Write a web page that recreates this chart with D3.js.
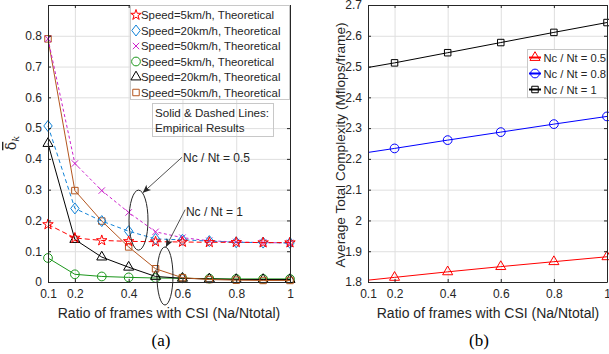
<!DOCTYPE html>
<html>
<head>
<meta charset="utf-8">
<script src="https://cdn.jsdelivr.net/npm/d3@7"></script>
<style>
body { margin: 0; background: #fff; }
svg { display: block; font-family: "Liberation Sans", Arial, sans-serif; }
</style>
</head>
<body>
<main></main>
<script>
// panel (a): delta_k vs ratio of frames with CSI
const ratiosA = [0.1, 0.2, 0.3, 0.4, 0.5, 0.6, 0.7, 0.8, 0.9, 1];
const half5 = [0.187, 0.143, 0.135, 0.132, 0.131, 0.130, 0.129, 0.129, 0.128, 0.128];
const half20 = [0.507, 0.239, 0.198, 0.165, 0.140, 0.137, 0.133, 0.129, 0.128, 0.127];
const half50 = [0.790, 0.385, 0.297, 0.226, 0.163, 0.144, 0.134, 0.130, 0.128, 0.127];
const full5 = [0.078, 0.025, 0.018, 0.015, 0.013, 0.012, 0.011, 0.010, 0.010, 0.010];
const full20 = [0.450, 0.138, 0.081, 0.048, 0.018, 0.012, 0.010, 0.008, 0.008, 0.008];
const full50 = [0.790, 0.297, 0.198, 0.114, 0.043, 0.014, 0.008, 0.006, 0.005, 0.005];
const legendA = ["Speed=5km/h, Theoretical", "Speed=20km/h, Theoretical", "Speed=50km/h, Theoretical",
                 "Speed=5km/h, Theoretical", "Speed=20km/h, Theoretical", "Speed=50km/h, Theoretical"];
const xTicksA = [0.1, 0.2, 0.4, 0.6, 0.8, 1];
const yTicksA = [0, 0.1, 0.2, 0.3, 0.4, 0.5, 0.6, 0.7, 0.8];
const noteA = ["Nc / Nt = 0.5", "Nc / Nt = 1"];
const boxText = ["Solid & Dashed Lines:", "Empirical Results"];

// panel (b): complexity
const ratiosB = [0.1, 0.2, 0.4, 0.6, 0.8, 1];
const complexHalf = [1.806, 1.815, 1.833, 1.850, 1.866, 1.882];
const complex08 = [2.221, 2.234, 2.261, 2.287, 2.313, 2.338];
const complexFull = [2.497, 2.512, 2.545, 2.578, 2.611, 2.643];
const legendB = ["Nc / Nt = 0.5", "Nc / Nt = 0.8", "Nc / Nt = 1"];
const xTicksB = [0.1, 0.2, 0.4, 0.6, 0.8, 1];
const yTicksB = [1.8, 1.9, 2, 2.1, 2.2, 2.3, 2.4, 2.5, 2.6, 2.7];

const svgSize = { width: 609, height: 354 };
const ink = "#262626";
const gridColor = "#dfdfdf";

const svg = d3.select("main")
    .append("svg")
    .attr("width", svgSize.width)
    .attr("height", svgSize.height);

svg.append("defs").append("marker")
    .attr("id", "arrow")
    .attr("markerUnits", "userSpaceOnUse")
    .attr("viewBox", "-9 -5 10 10")
    .attr("refX", 0).attr("refY", 0)
    .attr("markerWidth", 10).attr("markerHeight", 10)
    .attr("orient", "auto")
    .append("path")
    .attr("d", "M0,0 L-8,-3.5 L-6,0 L-8,3.5 Z")
    .attr("fill", ink);

// marker shapes
const markerPath = (kind) => {
    if (kind === "star") return d3.symbol(d3.symbolStar, 34)();
    if (kind === "circle") return d3.symbol(d3.symbolCircle, 60)();
    if (kind === "triangle") return d3.symbol(d3.symbolTriangle, 44)();
    if (kind === "square") return d3.symbol(d3.symbolSquare, 42)();
    if (kind === "diamond") return "M0,-5.5L4.2,0L0,5.5L-4.2,0Z";
    if (kind === "x") return "M-3.2,-3.2L3.2,3.2M-3.2,3.2L3.2,-3.2";
    return "";
};

const drawFrame = (g, x, y, xTicks, yTicks) => {
    const [x0, x1] = x.range();
    const [y0, y1] = y.range();
    g.append("g")
        .attr("transform", `translate(0, ${y0})`)
        .call(d3.axisBottom(x).tickValues(xTicks).tickSize(-(y0 - y1)).tickFormat(""))
        .call(a => a.select(".domain").remove())
        .selectAll("line").attr("stroke", gridColor);
    g.append("g")
        .attr("transform", `translate(${x0}, 0)`)
        .call(d3.axisLeft(y).tickValues(yTicks).tickSize(-(x1 - x0)).tickFormat(""))
        .call(a => a.select(".domain").remove())
        .selectAll("line").attr("stroke", gridColor);
};

const drawAxes = (g, x, y, xTicks, yTicks, fmt) => {
    const [x0, x1] = x.range();
    const [y0, y1] = y.range();
    const styleAxis = (a) => {
        a.select(".domain").attr("stroke", ink).attr("stroke-width", 1);
        a.selectAll(".tick line").attr("stroke", ink);
        a.selectAll("text").attr("fill", ink).attr("font-size", 12)
            .attr("font-family", "Liberation Sans, Arial, sans-serif");
    };
    g.append("g")
        .attr("transform", `translate(0, ${y0})`)
        .call(d3.axisBottom(x).tickValues(xTicks).tickSizeInner(-3).tickSizeOuter(0)
            .tickPadding(7).tickFormat(d3.format("~g")))
        .call(styleAxis);
    g.append("g")
        .attr("transform", `translate(0, ${y1})`)
        .call(d3.axisTop(x).tickValues(xTicks).tickSizeInner(-3).tickSizeOuter(0).tickFormat(""))
        .call(styleAxis);
    g.append("g")
        .attr("transform", `translate(${x0}, 0)`)
        .call(d3.axisLeft(y).tickValues(yTicks).tickSizeInner(-3).tickSizeOuter(0)
            .tickPadding(6).tickFormat(fmt))
        .call(styleAxis);
    g.append("g")
        .attr("transform", `translate(${x1}, 0)`)
        .call(d3.axisRight(y).tickValues(yTicks).tickSizeInner(-3).tickSizeOuter(0).tickFormat(""))
        .call(styleAxis);
};

const drawSeries = (g, x, y, xs, ys, s) => {
    const line = d3.line().x((d, i) => x(xs[i])).y(d => y(d));
    g.append("path")
        .datum(ys)
        .attr("d", line)
        .attr("fill", "none")
        .attr("stroke", s.color)
        .attr("stroke-width", s.width || 1)
        .attr("stroke-dasharray", s.dash || null);
    g.selectAll(null)
        .data(ys.map((v, i) => [xs[i], v]).filter((d, i) => i >= (s.skip || 0)))
        .enter()
        .append("path")
        .attr("transform", d => `translate(${x(d[0])}, ${y(d[1])})`)
        .attr("d", markerPath(s.marker))
        .attr("fill", "none")
        .attr("stroke", s.color)
        .attr("stroke-width", 1);
};

const drawPanelA = () => {
    const g = svg.append("g");
    const x = d3.scaleLinear().domain([0.1, 1]).range([48, 290]);
    const y = d3.scaleLinear().domain([0, 0.9]).range([282, 5]);
    drawFrame(g, x, y, xTicksA, yTicksA);

    const series = [
        { ys: half5, color: "#ff0000", dash: "5,3", marker: "star" },
        { ys: half20, color: "#1183d8", dash: "4,3", marker: "diamond" },
        { ys: half50, color: "#cc22cc", dash: "3,2.5", marker: "x" },
        { ys: full5, color: "#1a961a", marker: "circle" },
        { ys: full20, color: "#000000", marker: "triangle" },
        { ys: full50, color: "#b4561f", marker: "square" }
    ];
    // solid lines under the dashed ones
    [3, 4, 5, 2, 1, 0].forEach(i => drawSeries(g, x, y, ratiosA, series[i].ys, series[i]));
    drawAxes(g, x, y, xTicksA, yTicksA, d3.format("~g"));

    // legend
    const lg = g.append("g");
    lg.append("rect")
        .attr("x", 130.5).attr("y", 5.5).attr("width", 159).attr("height", 94)
        .attr("fill", "#fff").attr("stroke", "#c8c8c8");
    legendA.forEach((t, i) => {
        const cy = 15 + i * 15.5;
        lg.append("path")
            .attr("transform", `translate(136, ${cy})`)
            .attr("d", markerPath(series[i].marker))
            .attr("fill", "none").attr("stroke", series[i].color);
        lg.append("text")
            .attr("x", 141).attr("y", cy + 4.2)
            .attr("font-size", 11.4).attr("fill", ink)
            .text(t);
    });

    // text box
    g.append("rect")
        .attr("x", 152.5).attr("y", 103.5).attr("width", 121).attr("height", 33)
        .attr("fill", "none").attr("stroke", "#c8c8c8");
    boxText.forEach((t, i) => {
        g.append("text")
            .attr("x", 155).attr("y", 117 + i * 15)
            .attr("font-size", 11.6).attr("fill", ink)
            .text(t);
    });

    // annotations
    const notes = [
        { text: noteA[0], tx: 0.602, ty: 0.39, cx: 0.4366, cy: 0.201, rx: 9.5, ry: 30,
          from: [0.598, 0.405], to: [0.4525, 0.29] },
        { text: noteA[1], tx: 0.613, ty: 0.214, cx: 0.535, cy: 0.0195, rx: 8, ry: 29,
          from: [0.61, 0.235], to: [0.5385, 0.114] }
    ];
    notes.forEach(n => {
        g.append("ellipse")
            .attr("cx", x(n.cx)).attr("cy", y(n.cy))
            .attr("rx", n.rx).attr("ry", n.ry)
            .attr("fill", "none").attr("stroke", ink);
        g.append("line")
            .attr("x1", x(n.from[0])).attr("y1", y(n.from[1]))
            .attr("x2", x(n.to[0])).attr("y2", y(n.to[1]))
            .attr("stroke", ink).attr("stroke-width", 0.8)
            .attr("marker-end", "url(#arrow)");
        g.append("text")
            .attr("x", x(n.tx)).attr("y", y(n.ty))
            .attr("font-size", 12).attr("fill", ink)
            .text(n.text);
    });

    // axis titles
    g.append("text")
        .attr("x", 169).attr("y", 318)
        .attr("text-anchor", "middle").attr("font-size", 14).attr("fill", ink)
        .text("Ratio of frames with CSI (Na/Ntotal)");
    const yl = g.append("text")
        .attr("transform", "translate(16, 143) rotate(-90)")
        .attr("text-anchor", "middle").attr("font-size", 14).attr("fill", ink)
        .attr("font-family", "DejaVu Serif, serif");
    yl.append("tspan").style("text-decoration", "overline").text("δ");
    yl.append("tspan").attr("font-size", 10).attr("font-style", "italic").attr("dy", 3).text("k");

    g.append("text")
        .attr("x", 161).attr("y", 346)
        .attr("text-anchor", "middle").attr("font-size", 17)
        .attr("font-family", "Liberation Serif, Times New Roman, serif").attr("fill", "#000")
        .text("(a)");
};

const drawPanelB = () => {
    const g = svg.append("g");
    const x = d3.scaleLinear().domain([0.1, 1]).range([368, 607]);
    const y = d3.scaleLinear().domain([1.8, 2.7]).range([282, 5]);
    drawFrame(g, x, y, xTicksB, yTicksB);

    const series = [
        { ys: complexHalf, color: "#ff0000", marker: "triangle", skip: 1 },
        { ys: complex08, color: "#0000ff", marker: "circle", skip: 1 },
        { ys: complexFull, color: "#000000", marker: "square", skip: 1 }
    ];
    series.forEach(s => drawSeries(g, x, y, ratiosB, s.ys, s));
    drawAxes(g, x, y, xTicksB, yTicksB, d3.format("~g"));

    const lg = g.append("g");
    lg.append("rect")
        .attr("x", 527.5).attr("y", 49.5).attr("width", 79).attr("height", 48)
        .attr("fill", "#fff").attr("stroke", "#c8c8c8");
    legendB.forEach((t, i) => {
        const cy = 57.5 + i * 16;
        lg.append("line")
            .attr("x1", 529).attr("x2", 541).attr("y1", cy).attr("y2", cy)
            .attr("stroke", series[i].color).attr("stroke-width", 2);
        lg.append("path")
            .attr("transform", `translate(535, ${cy})`)
            .attr("d", markerPath(series[i].marker))
            .attr("fill", "none").attr("stroke", series[i].color);
        lg.append("text")
            .attr("x", 543.5).attr("y", cy + 4.2)
            .attr("font-size", 11.2).attr("fill", ink)
            .text(t);
    });

    g.append("text")
        .attr("x", 488).attr("y", 318)
        .attr("text-anchor", "middle").attr("font-size", 14).attr("fill", ink)
        .text("Ratio of frames with CSI (Na/Ntotal)");
    g.append("text")
        .attr("transform", "translate(345, 145) rotate(-90)")
        .attr("text-anchor", "middle").attr("font-size", 13.6).attr("fill", ink)
        .text("Average Total Complexity (Mflops/frame)");
    g.append("text")
        .attr("x", 479).attr("y", 346)
        .attr("text-anchor", "middle").attr("font-size", 17)
        .attr("font-family", "Liberation Serif, Times New Roman, serif").attr("fill", "#000")
        .text("(b)");
};

drawPanelA();
drawPanelB();
</script>
</body>
</html>
